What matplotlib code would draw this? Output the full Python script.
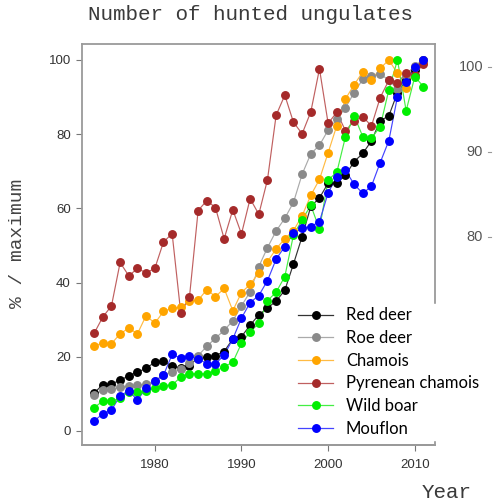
import matplotlib
matplotlib.use("Agg")
import matplotlib.pyplot as plt
from matplotlib.lines import Line2D

years = list(range(1973, 2012))

red_deer = [10.2, 12.5, 12.7, 13.6, 14.9, 15.8, 16.9, 18.5, 18.8, 17.4,
            17.0, 17.6, 19.8, 19.8, 20.3, 21.4, 24.8, 25.4, 28.5, 31.3,
            33.1, 35.0, 37.9, 45.0, 52.4, 60.5, 62.8, 66.8, 66.9, 68.9,
            72.6, 74.8, 78.2, 83.6, 84.9, 91.2, 94.5, 97.2, 100.0]
roe_deer = [9.6, 11.1, 11.2, 11.8, 12.1, 12.3, 12.6, 13.5, 15.0, 16.0,
            16.8, 18.3, 20.3, 22.8, 25.0, 27.1, 29.7, 33.7, 37.5, 44.3,
            49.4, 53.9, 57.3, 61.6, 69.2, 74.7, 77.0, 81.1, 84.0, 87.1,
            91.2, 94.8, 95.6, 96.2, 94.6, 92.1, 96.0, 98.5, 100.0]
chamois = [23.0, 23.6, 23.5, 26.2, 27.7, 26.2, 31.1, 29.0, 32.2, 33.1,
           33.3, 35.0, 35.2, 38.1, 36.2, 38.4, 32.4, 37.3, 39.5, 42.6,
           45.6, 49.1, 51.8, 54.0, 58.0, 63.5, 67.8, 75.0, 82.3, 89.5,
           93.3, 96.8, 94.5, 97.7, 100.0, 96.4, 92.4, 98.0, 99.5]
pyrenean = [26.3, 30.7, 33.7, 45.4, 41.8, 43.8, 42.6, 43.8, 50.9, 53.2,
            31.7, 36.1, 59.4, 62.1, 60.2, 51.8, 59.6, 53.1, 62.6, 58.4,
            67.7, 85.1, 90.5, 83.2, 80.1, 86.0, 97.6, 82.9, 85.9, 80.9,
            83.6, 84.7, 82.2, 89.8, 94.5, 93.8, 96.5, 96.0, 99.0]
wild_boar = [6.3, 8.0, 8.0, 8.8, 10.6, 10.6, 10.8, 11.5, 12.2, 12.4,
             14.5, 15.4, 15.4, 15.4, 16.1, 17.3, 18.5, 23.6, 26.7, 29.0,
             35.1, 37.4, 41.6, 52.8, 56.9, 60.8, 54.4, 67.7, 69.7, 79.3,
             85.0, 79.3, 78.9, 82.0, 91.9, 100.0, 86.3, 95.5, 92.8]
mouflon = [2.7, 4.6, 5.6, 9.5, 10.8, 8.3, 11.6, 13.5, 15.0, 20.6,
           19.6, 20.1, 19.5, 18.1, 18.1, 20.4, 24.8, 30.4, 34.6, 36.5,
           40.5, 46.3, 49.7, 53.3, 54.6, 55.1, 56.4, 64.2, 68.5, 70.2,
           66.5, 64.0, 66.0, 72.3, 78.2, 90.1, 94.0, 98.2, 100.0]

series_names = ["Red deer", "Roe deer", "Chamois", "Pyrenean chamois",
                "Wild boar", "Mouflon"]
series_values = [red_deer, roe_deer, chamois, pyrenean, wild_boar, mouflon]
marker_colors = ["#000000", "#8a8a8a", "#ffa500", "#a52a2a", "#00ee00", "#0000ff"]
line_colors = ["#333333", "#aaaaaa", "#ffbb44", "#c06060", "#44ee44", "#4444ff"]

x_ticks = [1980, 1990, 2000, 2010]
y_ticks = [0, 20, 40, 60, 80, 100]
right_labels = ["100", "90", "80"]

W, H = 497, 503
fig = plt.figure(figsize=(W / 100, H / 100), dpi=100)
fig.patch.set_facecolor("white")

def fx(px):
    return px / W

def fy(py):
    return 1 - py / H

ax = fig.add_axes([fx(82), fy(445), fx(435) - fx(82), fy(44) - fy(445)])
ax.set_xlim(1971.6, 2012.33)
ax.set_ylim(-3.8, 104.3)

handles = []
for name, vals, mc, lc in zip(series_names, series_values, marker_colors, line_colors):
    assert len(vals) == len(years)
    ax.plot(years, vals, color=lc, lw=0.85, zorder=2)
    ax.plot(years, vals, ls="none", marker="o", ms=5.4, mfc=mc, mec=mc, zorder=3)
    handles.append(Line2D([], [], color=lc, lw=0.9, marker="o", ms=5.4,
                          mfc=mc, mec=mc, label=name))

for s in ax.spines.values():
    s.set_color("#9a9a9a")
    s.set_linewidth(1.3)

ax.set_xticks(x_ticks)
ax.set_yticks(y_ticks)
ax.tick_params(axis="both", colors="#777777", labelcolor="#333333",
               labelsize=9.5, length=4, width=0.8)
ax.tick_params(axis="x", pad=6)
ax.tick_params(axis="y", pad=4)
for lab in ax.get_xticklabels() + ax.get_yticklabels():
    lab.set_fontfamily("Liberation Sans")

fig.text(fx(251), fy(15), "Number of hunted ungulates", family="Liberation Mono",
         fontsize=15, color="#3a3a3a", ha="center", va="center")
fig.text(fx(18), fy(243), "% / maximum", family="Liberation Mono", fontsize=14,
         color="#444444", ha="center", va="center", rotation=90)
fig.text(fx(447), fy(492), "Year", family="Liberation Mono", fontsize=15,
         color="#3a3a3a", ha="center", va="center")

for lab, py in zip(right_labels, [67, 152, 237]):
    fig.text(fx(483), fy(py), lab, family="Liberation Sans", fontsize=10.5,
             color="#555555", ha="right", va="center")
    fig.add_artist(Line2D([fx(488), fx(491)], [fy(py), fy(py)],
                          color="#999999", lw=0.8))

leg = fig.legend(handles=handles, loc="upper left",
                 bbox_to_anchor=(fx(295), fy(304)), frameon=True,
                 prop={"family": "Lato", "size": 12}, handlelength=2.1,
                 handletextpad=0.75, labelspacing=0.4, borderpad=0.2,
                 borderaxespad=0)
leg.get_frame().set_facecolor("white")
leg.get_frame().set_edgecolor("white")
leg.get_frame().set_alpha(1)
leg.get_frame().set_boxstyle("square", pad=0)

# keep the bottom axis line visible above the legend box
fig.add_artist(Line2D([0, 1], [0, 0], transform=ax.transAxes, color="#9a9a9a",
                      lw=1.3, zorder=10))

fig.savefig("out.png", dpi=100, facecolor="white")
